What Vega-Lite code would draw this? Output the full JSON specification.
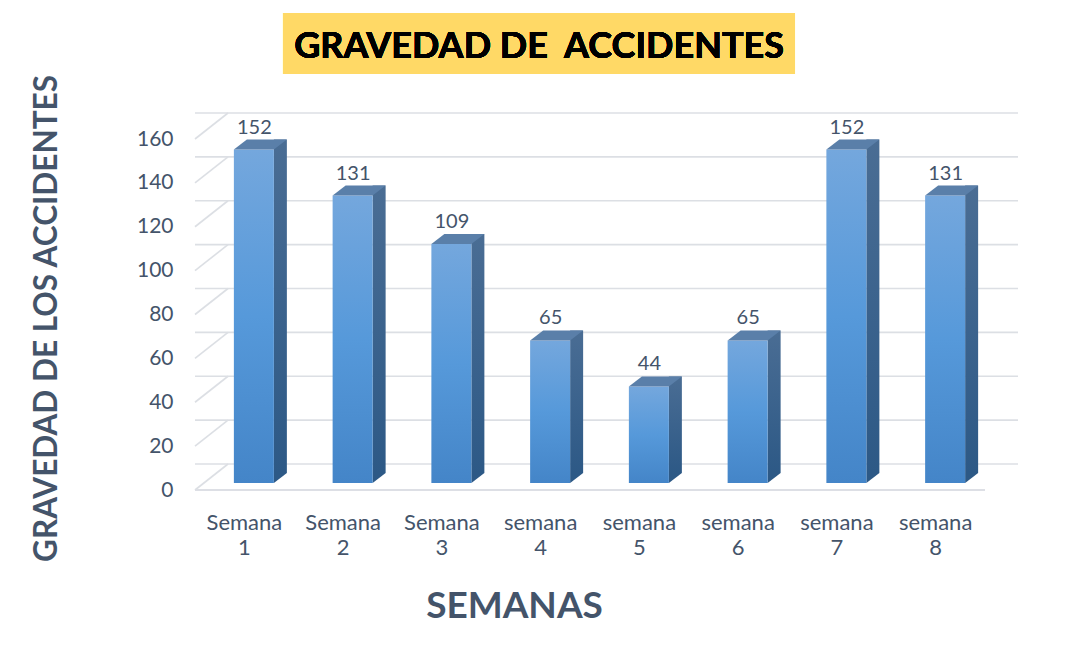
{
  "$schema": "https://vega.github.io/schema/vega-lite/v6.json",
  "width": 790,
  "height": 351,
  "autosize": {"type": "none"},
  "padding": {"left": 195, "top": 132, "right": 91, "bottom": 175},
  "background": "white",
  "config": {"view": {"stroke": null}, "font": "Lato"},
  "datasets": {
    "semanas": [
      {"semana": "Semana 1", "valor": 152},
      {"semana": "Semana 2", "valor": 131},
      {"semana": "Semana 3", "valor": 109},
      {"semana": "semana 4", "valor": 65},
      {"semana": "semana 5", "valor": 44},
      {"semana": "semana 6", "valor": 65},
      {"semana": "semana 7", "valor": 152},
      {"semana": "semana 8", "valor": 131}
    ],
    "rejilla": [
      {"v": 0}, {"v": 20}, {"v": 40}, {"v": 60}, {"v": 80},
      {"v": 100}, {"v": 120}, {"v": 140}, {"v": 160}
    ]
  },
  "data": {"name": "semanas"},
  "encoding": {
    "x": {
      "field": "semana",
      "type": "nominal",
      "sort": null,
      "scale": {"paddingInner": 0, "paddingOuter": 0},
      "axis": {
        "title": "SEMANAS",
        "titleFont": "Lato",
        "titleFontSize": 37,
        "titleFontWeight": "bold",
        "titleColor": "#44546A",
        "titleX": 319,
        "titleY": 134,
        "titleBaseline": "alphabetic",
        "titleAlign": "center",
        "labelExpr": "split(datum.label, ' ')",
        "labelAngle": 0,
        "labelAlign": "center",
        "labelBaseline": "top",
        "labelFont": "Lato",
        "labelFontSize": 22,
        "labelLineHeight": 25,
        "labelColor": "#44546A",
        "labelPadding": 29,
        "domain": false,
        "ticks": false,
        "tickSize": 0,
        "grid": false
      }
    },
    "y": {
      "field": "valor",
      "type": "quantitative",
      "scale": {"domain": [0, 160], "nice": false},
      "axis": {
        "title": "GRAVEDAD DE LOS ACCIDENTES",
        "titleFont": "Lato",
        "titleFontSize": 31.5,
        "titleFontWeight": "bold",
        "titleColor": "#44546A",
        "titleX": -139,
        "titleY": 186,
        "titleAngle": -90,
        "titleAlign": "center",
        "titleBaseline": "alphabetic",
        "values": [0, 20, 40, 60, 80, 100, 120, 140, 160],
        "labelFont": "Lato",
        "labelFontSize": 21,
        "labelColor": "#44546A",
        "labelOffset": 7,
        "labelPadding": 22,
        "domain": false,
        "ticks": false,
        "tickSize": 0,
        "grid": false
      }
    }
  },
  "layer": [
    {
      "data": {"name": "rejilla"},
      "mark": {"type": "rule", "color": "#DCDFE4", "strokeWidth": 1.6, "xOffset": 33, "x2Offset": 34, "yOffset": -19},
      "encoding": {
        "x": null,
        "y": {"field": "v", "type": "quantitative"}
      }
    },
    {
      "data": {"name": "rejilla"},
      "mark": {"type": "rule", "color": "#DCDFE4", "strokeWidth": 1.6, "x2Offset": 33, "yOffset": 7, "y2Offset": -19},
      "encoding": {
        "x": {"datum": "Semana 1", "bandPosition": 0},
        "x2": {"datum": "Semana 1", "bandPosition": 0},
        "y": {"field": "v", "type": "quantitative"},
        "y2": {"field": "v"}
      }
    },
    {
      "mark": {"type": "rule", "color": "#DCDFE4", "strokeWidth": 1.6, "yOffset": 7},
      "encoding": {
        "x": null,
        "y": {"datum": 0, "type": "quantitative"}
      }
    },
    {
      "mark": {
        "type": "bar",
        "width": 13,
        "xOffset": 36,
        "yOffset": -10,
        "y2Offset": -10,
        "fill": {
          "gradient": "linear", "x1": 0, "y1": 0, "x2": 0, "y2": 1,
          "stops": [
            {"offset": 0, "color": "#4A6D94"},
            {"offset": 1, "color": "#2D5986"}
          ]
        }
      }
    },
    {
      "mark": {
        "type": "point",
        "filled": true,
        "opacity": 1,
        "size": 169,
        "xOffset": 36,
        "shape": "M-1,-1.5385L-1,0L1,-1.5385Z",
        "fill": "#2D5986",
        "strokeWidth": 0
      },
      "encoding": {
        "y": {"datum": 0, "type": "quantitative"}
      }
    },
    {
      "mark": {
        "type": "bar",
        "width": 40,
        "xOffset": 9.5,
        "fill": {
          "gradient": "linear", "x1": 0, "y1": 0, "x2": 0, "y2": 1,
          "stops": [
            {"offset": 0, "color": "#74A7DD"},
            {"offset": 0.5, "color": "#5699DA"},
            {"offset": 1, "color": "#4485C8"}
          ]
        }
      }
    },
    {
      "mark": {
        "type": "point",
        "filled": true,
        "opacity": 1,
        "size": 2809,
        "xOffset": 16,
        "yOffset": -5,
        "shape": "M-1,0.1887L0.5094,0.1887L1,-0.1887L-0.5094,-0.1887Z",
        "fill": "#5A7FA9",
        "strokeWidth": 0
      }
    },
    {
      "mark": {
        "type": "text",
        "font": "Lato",
        "fontSize": 20,
        "color": "#44546A",
        "baseline": "alphabetic",
        "align": "center",
        "dx": 10,
        "dy": -16
      },
      "encoding": {
        "text": {"field": "valor", "type": "quantitative"}
      }
    },
    {
      "mark": {"type": "rect", "fill": "#FFD966"},
      "encoding": {
        "x": {"datum": "Semana 1", "bandPosition": 0.891},
        "x2": {"datum": "semana 7", "bandPosition": 0.076},
        "y": {"datum": 214.2, "type": "quantitative"},
        "y2": {"datum": 186.4}
      }
    },
    {
      "mark": {
        "type": "text",
        "text": "GRAVEDAD DE\u00a0 ACCIDENTES",
        "font": "Lato",
        "fontSize": 36,
        "fontWeight": "bold",
        "color": "#000000",
        "align": "center",
        "baseline": "alphabetic"
      },
      "encoding": {
        "x": {"datum": "semana 4", "bandPosition": 0.484},
        "y": {"datum": 193.7, "type": "quantitative"}
      }
    }
  ]
}
